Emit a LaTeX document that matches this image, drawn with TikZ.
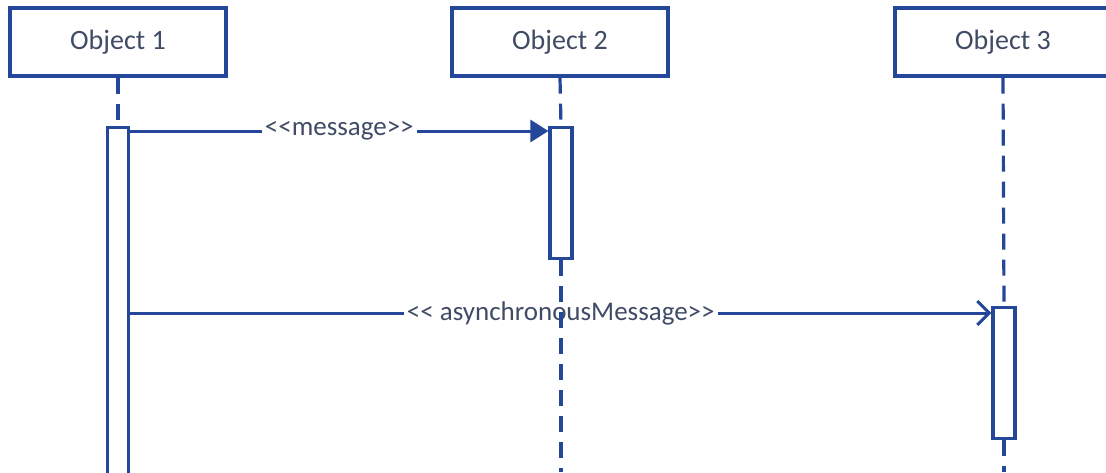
\documentclass[tikz,border=0pt]{standalone}
\usepackage{fontspec}
\setmainfont{Carlito}
\usetikzlibrary{arrows.meta}
\definecolor{umlblue}{HTML}{24479A}
\definecolor{umltext}{HTML}{404B66}
\begin{document}
\begin{tikzpicture}[x=1pt,y=-1pt,
  objbox/.style={draw=umlblue,line width=3.2pt,fill=white,minimum width=216pt,minimum height=68pt,
    text=umltext,font=\fontsize{28}{31}\selectfont,inner sep=0pt},
  actbox/.style={draw=umlblue,line width=3.2pt,fill=white,minimum width=21pt,inner sep=0pt},
  lifeline/.style={draw=umlblue,line width=3.2pt,dash pattern=on 16pt off 10pt},
  msg/.style={draw=umlblue,line width=3pt},
  msglabel/.style={fill=white,text=umltext,font=\fontsize{27}{30}\selectfont,inner sep=3pt},
  synctip/.style={-{Triangle[length=18pt,width=22pt]}},
  asynctip/.style={-{Straight Barb[length=12pt,width=24pt,line width=3pt]}}
]
\useasboundingbox (0,0) rectangle (1106,472);
\fill[white] (0,0) rectangle (1106,472);

% object heads
\node[objbox] (o1) at (118,42) {Object 1};
\node[objbox] (o2) at (560,42) {Object 2};
\node[objbox] (o3) at (1003,42) {Object 3};

% lifeline ends
\coordinate (e2) at (561,472);
\coordinate (e3) at (1004,472);

% activation bars
\node[actbox,minimum height=360pt,anchor=north] (a1) at (118,126) {};
\node[actbox,minimum height=131pt,anchor=north,minimum width=22pt] (a2) at (561,126) {};
\node[actbox,minimum height=131pt,anchor=north,minimum width=22pt] (a3) at (1004,306) {};

% message end points
\coordinate (m1s) at (a1.east |- 0,131);
\coordinate (m1e) at (a2.west |- 0,131);
\coordinate (m2s) at (a1.east |- 0,313);
\coordinate (m2e) at (a3.west |- 0,313);

% messages (the Object 2 lifeline is drawn over the second label)
\draw[msg,synctip] (m1s) -- node[msglabel,pos=0.5] (l1) {<{}<message>{}>} (m1e);
\draw[msg,asynctip] (m2s) -- node[msglabel,pos=0.5] (l2) {<{}< asynchronousMessage>{}>} (m2e);

% lifelines
\draw[lifeline] (o1.south) -- (a1.north);
\draw[lifeline] (o2.south) -- (a2.north);
\draw[lifeline] (a2.south) -- (e2);
\draw[lifeline] (o3.south) -- (a3.north);
\draw[lifeline] (a3.south) -- (e3);

% activation bars again, above the lifelines
\node[actbox,minimum height=360pt,anchor=north] at (118,126) {};
\node[actbox,minimum height=131pt,anchor=north,minimum width=22pt] at (561,126) {};
\node[actbox,minimum height=131pt,anchor=north,minimum width=22pt] at (1004,306) {};
\end{tikzpicture}
\end{document}
